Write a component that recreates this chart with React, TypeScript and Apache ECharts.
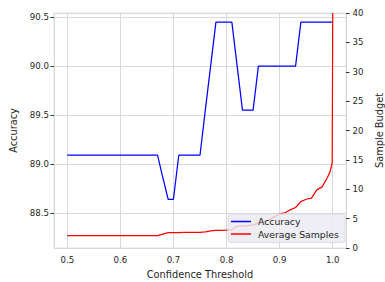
import React, { useEffect, useRef } from "react";
import * as echarts from "echarts";

const thresholds = [
  0.5, 0.51, 0.52, 0.53, 0.54, 0.55, 0.56, 0.57, 0.58, 0.59,
  0.6, 0.61, 0.62, 0.63, 0.64, 0.65, 0.66, 0.67, 0.68, 0.69,
  0.7, 0.71, 0.72, 0.73, 0.74, 0.75, 0.76, 0.77, 0.78, 0.79,
  0.8, 0.81, 0.82, 0.83, 0.84, 0.85, 0.86, 0.87, 0.88, 0.89,
  0.9, 0.91, 0.92, 0.93, 0.94, 0.95, 0.96, 0.97, 0.98, 0.99,
  0.995, 0.999, 1.0,
];

const accuracy = [
  89.09, 89.09, 89.09, 89.09, 89.09, 89.09, 89.09, 89.09, 89.09, 89.09,
  89.09, 89.09, 89.09, 89.09, 89.09, 89.09, 89.09, 89.09, 88.86, 88.64,
  88.64, 89.09, 89.09, 89.09, 89.09, 89.09, 89.55, 90.0, 90.45, 90.45,
  90.45, 90.45, 90.0, 89.55, 89.55, 89.55, 90.0, 90.0, 90.0, 90.0,
  90.0, 90.0, 90.0, 90.0, 90.45, 90.45, 90.45, 90.45, 90.45, 90.45,
  90.45, 90.45, 90.45,
];

const avgSamples = [
  2.1, 2.1, 2.1, 2.1, 2.1, 2.1, 2.1, 2.1, 2.1, 2.1,
  2.1, 2.1, 2.1, 2.1, 2.1, 2.1, 2.1, 2.1, 2.35, 2.6,
  2.62, 2.63, 2.64, 2.65, 2.66, 2.68, 2.75, 2.9, 3.0, 3.02,
  3.05, 3.1, 3.7, 3.75, 3.8, 3.95, 4.25, 4.4, 4.8, 5.3,
  5.8, 6.0, 6.5, 6.9, 7.9, 8.3, 8.5, 9.9, 10.4, 12.0,
  13.0, 14.5, 40,
];

const FONT = "DejaVu Sans";
const TEXT = "#262626";

export default function App() {
  const ref = useRef<HTMLDivElement>(null);
  useEffect(() => {
    if (!ref.current) return;
    const chart = echarts.init(ref.current, undefined, { renderer: "svg" });
    const fmt1 = (v: number) => v.toFixed(1);
    chart.setOption({
      animation: false,
      backgroundColor: "#ffffff",
      textStyle: { fontFamily: FONT, color: TEXT },
      grid: {
        left: 54,
        right: 39,
        top: 13,
        bottom: 34,
        show: true,
        containLabel: false,
        outerBoundsMode: "none",
        borderColor: "#e6e6e6",
        borderWidth: 1.2,
        backgroundColor: "#ffffff",
      },
      xAxis: {
        type: "value",
        min: 0.475,
        max: 1.025,
        splitNumber: 5,
        name: "Confidence Threshold",
        nameLocation: "middle",
        nameGap: 21,
        nameTextStyle: { fontFamily: FONT, fontSize: 9.8, color: TEXT },
        axisLine: { show: false },
        axisTick: { show: false },
        axisLabel: {
          formatter: fmt1,
          fontFamily: FONT,
          fontSize: 8.6,
          color: TEXT,
          margin: 7,
          showMinLabel: false,
          showMaxLabel: false,
        },
        splitLine: { show: true, lineStyle: { color: "#d9d9d9", width: 1 } },
      },
      yAxis: [
        {
          type: "value",
          min: 88.142,
          max: 90.543,
          splitNumber: 5,
          name: "Accuracy",
          nameLocation: "middle",
          nameGap: 29,
          nameTextStyle: { fontFamily: FONT, fontSize: 9.8, color: TEXT },
          axisLine: { show: false },
          axisTick: { show: true, length: 3.5, lineStyle: { color: "#333333", width: 1 } },
          axisLabel: {
            formatter: fmt1,
            fontFamily: FONT,
            fontSize: 8.6,
            color: TEXT,
            margin: 5,
            showMinLabel: false,
            showMaxLabel: false,
          },
          splitLine: { show: true, lineStyle: { color: "#d9d9d9", width: 1 } },
        },
        {
          type: "value",
          min: 0,
          max: 40,
          interval: 5,
          position: "right",
          name: "Sample Budget",
          nameLocation: "middle",
          nameGap: 23,
          nameTextStyle: { fontFamily: FONT, fontSize: 9.8, color: TEXT },
          axisLine: { show: false },
          axisTick: { show: true, length: 3.5, lineStyle: { color: "#333333", width: 1 } },
          axisLabel: { fontFamily: FONT, fontSize: 8.6, color: TEXT, margin: 6.5 },
          splitLine: { show: false },
        },
      ],
      legend: {
        orient: "vertical",
        left: 228,
        top: 214,
        padding: [3, 6, 4, 3],
        itemGap: 3.5,
        itemWidth: 20,
        itemHeight: 1.5,
        icon: "rect",
        backgroundColor: "rgba(234,234,242,0.82)",
        borderColor: "#dcdce4",
        borderWidth: 1,
        borderRadius: 3,
        textStyle: { fontFamily: FONT, fontSize: 9.3, color: TEXT, padding: [0, 0, 0, 2] },
        data: ["Accuracy", "Average Samples"],
      },
      series: [
        {
          name: "Accuracy",
          type: "line",
          yAxisIndex: 0,
          symbol: "none",
          color: "#0000ff",
          lineStyle: { color: "#0000ff", width: 1.25 },
          data: thresholds.map((t, i) => [t, accuracy[i]]),
        },
        {
          name: "Average Samples",
          type: "line",
          yAxisIndex: 1,
          symbol: "none",
          color: "#ff0000",
          lineStyle: { color: "#ff0000", width: 1.25 },
          data: thresholds.map((t, i) => [t, avgSamples[i]]),
        },
      ],
    });
    return () => chart.dispose();
  }, []);
  return (
    <div
      ref={ref}
      style={{ position: "fixed", left: 0, top: 0, width: 385, height: 282 }}
    />
  );
}
